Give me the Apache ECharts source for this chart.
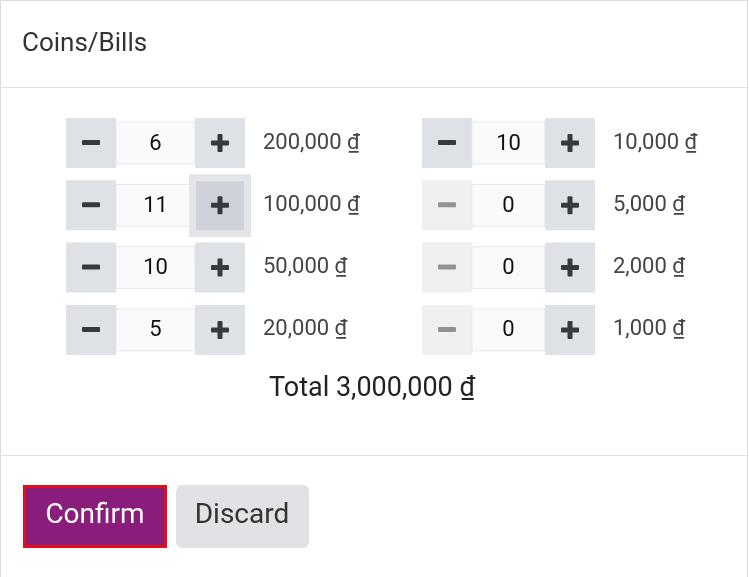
<!DOCTYPE html>
<html>
<head>
<meta charset="utf-8">
<title>Coins/Bills</title>
<script src="https://cdn.jsdelivr.net/npm/echarts@6/dist/echarts.min.js"></script>
<style>html,body{margin:0;padding:0;background:#fff}</style>
</head>
<body>
<div id="main" style="width:749px;height:577px;"></div>
<script type="text/javascript">
// denominations and counts, left column then right column
var leftLabels = ['200,000', '100,000', '50,000', '20,000'];
var leftCounts = [6, 11, 10, 5];
var rightLabels = ['10,000', '5,000', '2,000', '1,000'];
var rightCounts = [10, 0, 0, 0];
var totalText = '3,000,000';
var hoverRow = 1; // plus button of this left row is hovered

var font = 'Roboto, "Noto Sans", sans-serif';
var els = [];

function rect(x, y, w, h, fill, extra) {
  var e = {type: 'rect', shape: {x: x, y: y, width: w, height: h, r: (extra && extra.r) || 0},
    style: {fill: fill, stroke: extra && extra.stroke, lineWidth: (extra && extra.lw) || 0}};
  els.push(e);
}
function text(x, y, s, size, color, align) {
  els.push({type: 'text', x: x, y: y, style: {text: s, font: size + 'px ' + font, fill: color,
    align: align || 'left', verticalAlign: 'middle'}});
}

function group(x0, labels, counts, hover, inW) {
  labels.forEach(function (lab, i) {
    var y = 118 + i * 62.3, h = 50, cy = y + 25;
    var zero = counts[i] === 0;
    // minus
    rect(x0, y, 50, h, zero ? '#eef0f2' : '#dee1e5');
    rect(x0 + 16, cy - 3, 18, 5, zero ? '#8f9296' : '#343a40', {r: 1});
    // input
    rect(x0 + 50, y + 4, inW, h - 8, '#f9fafb', {stroke: '#e6e8eb', lw: 1});
    text(x0 + 50 + inW / 2, cy + 1, String(counts[i]), 22, '#111', 'center');
    // plus
    var px = x0 + 50 + inW;
    if (hover === i) {
      rect(px - 6, y - 6, 62, 63, '#e3e5e8');
      rect(px + 1, y + 1, 48, 49, '#cfd3d9');
    } else {
      rect(px, y, 50, h, '#dee1e5');
    }
    rect(px + 16, cy - 2.5, 18, 5, '#343a40', {r: 1});
    rect(px + 22.5, cy - 9, 5, 18, '#343a40', {r: 1});
    text(px + 68, cy, lab + ' ₫', 22, '#444');
  });
}

// frame and separators
rect(0.5, 0.5, 747, 580, '#fff', {stroke: '#dcdcdc', lw: 1});
text(22, 44, 'Coins/Bills', 26, '#333');
rect(0, 87, 748, 1, '#e2e2e2');
group(66, leftLabels, leftCounts, hoverRow, 79);
group(422, rightLabels, rightCounts, -1, 73);
text(372, 389, 'Total ' + totalText + ' ₫', 27, '#222', 'center');
rect(0, 455, 748, 1, '#e2e2e2');

// buttons
rect(23, 485, 144, 63, '#e0101a');
rect(26, 488, 138, 57, '#8a1c7c');
text(95, 516, 'Confirm', 28, '#fff', 'center');
rect(176, 485, 133, 63, '#e0e2e6', {r: 6});
text(242, 516, 'Discard', 28, '#333', 'center');

var myChart = echarts.init(document.getElementById('main'));
myChart.setOption({animation: false, graphic: {elements: els}});
</script>
</body>
</html>
